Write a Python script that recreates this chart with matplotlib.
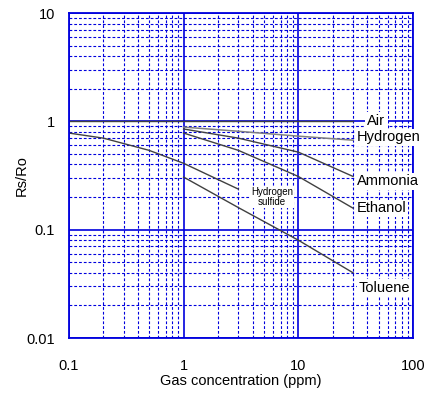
import matplotlib
matplotlib.use('Agg')
import matplotlib.pyplot as plt
from matplotlib.ticker import FixedLocator, FixedFormatter, NullFormatter, LogLocator

plt.rcParams['font.family'] = ['Liberation Sans', 'DejaVu Sans']

# Data
air_x = [0.1, 30]
air_y = [1.0, 1.0]
h2_x = [1, 3, 10, 30]
h2_y = [0.885, 0.81, 0.73, 0.67]
nh3_x = [1, 3, 10, 30]
nh3_y = [0.85, 0.70, 0.52, 0.31]
etoh_x = [1, 3, 10, 30]
etoh_y = [0.78, 0.54, 0.31, 0.158]
h2s_x = [0.1, 0.2, 0.5, 1, 2, 3]
h2s_y = [0.78, 0.70, 0.54, 0.41, 0.29, 0.237]
tol_x = [1, 3, 10, 30]
tol_y = [0.306, 0.16, 0.08, 0.040]

xticks = [0.1, 1, 10, 100]
xticklabels = ['0.1', '1', '10', '100']
yticks = [0.01, 0.1, 1, 10]
yticklabels = ['0.01', '0.1', '1', '10']

blue = '#0000dd'
fig = plt.figure(figsize=(4.33, 3.94), dpi=100)
ax = fig.add_axes([0.159, 0.142, 0.795, 0.825])
ax.set_xscale('log')
ax.set_yscale('log')
ax.set_xlim(0.1, 100)
ax.set_ylim(0.01, 10)

ax.xaxis.set_major_locator(FixedLocator(xticks))
ax.xaxis.set_major_formatter(FixedFormatter(xticklabels))
ax.yaxis.set_major_locator(FixedLocator(yticks))
ax.yaxis.set_major_formatter(FixedFormatter(yticklabels))
ax.xaxis.set_minor_locator(LogLocator(base=10, subs=range(2, 10)))
ax.yaxis.set_minor_locator(LogLocator(base=10, subs=range(2, 10)))
ax.xaxis.set_minor_formatter(NullFormatter())
ax.yaxis.set_minor_formatter(NullFormatter())

ax.grid(which='major', color=blue, lw=1.2, ls='-')
ax.grid(which='minor', color=blue, lw=0.8, ls=(0, (2.5, 1.8)))
ax.set_axisbelow(True)
for sp in ax.spines.values():
    sp.set_color(blue)
    sp.set_linewidth(1.3)
ax.tick_params(which='both', length=0)
ax.tick_params(axis='x', pad=15, labelsize=10.5)
ax.tick_params(axis='y', pad=10, labelsize=10.5)

line_c = '#404040'
ax.plot(air_x, air_y, color=line_c, lw=1)
ax.plot(h2_x, h2_y, color='#808080', lw=1.1)
ax.plot(nh3_x, nh3_y, color=line_c, lw=1)
ax.plot(etoh_x, etoh_y, color=line_c, lw=1)
ax.plot(h2s_x, h2s_y, color=line_c, lw=1)
ax.plot(tol_x, tol_y, color=line_c, lw=1)

box = dict(facecolor='white', edgecolor='none', pad=1)
ax.text(40, 1.0, 'Air', fontsize=10.5, va='center', ha='left', bbox=dict(facecolor='white', edgecolor='none', pad=2))
ax.text(32.5, 0.716, 'Hydrogen', fontsize=10.5, va='center', ha='left', bbox=box)
ax.text(32.5, 0.281, 'Ammonia', fontsize=10.5, va='center', ha='left', bbox=box)
ax.text(32.5, 0.158, 'Ethanol', fontsize=10.5, va='center', ha='left', bbox=box)
ax.text(33.5, 0.029, 'Toluene', fontsize=10.5, va='center', ha='left', bbox=box)
ax.text(5.9, 0.20, 'Hydrogen\nsulfide', fontsize=7, va='center', ha='center',
        linespacing=1.0, bbox=dict(facecolor='white', edgecolor='none', pad=1))

ax.set_xlabel('Gas concentration (ppm)', fontsize=10.5, labelpad=1)
ax.set_ylabel('Rs/Ro', fontsize=10.5, labelpad=-2)

fig.savefig('out.png', dpi=100)
